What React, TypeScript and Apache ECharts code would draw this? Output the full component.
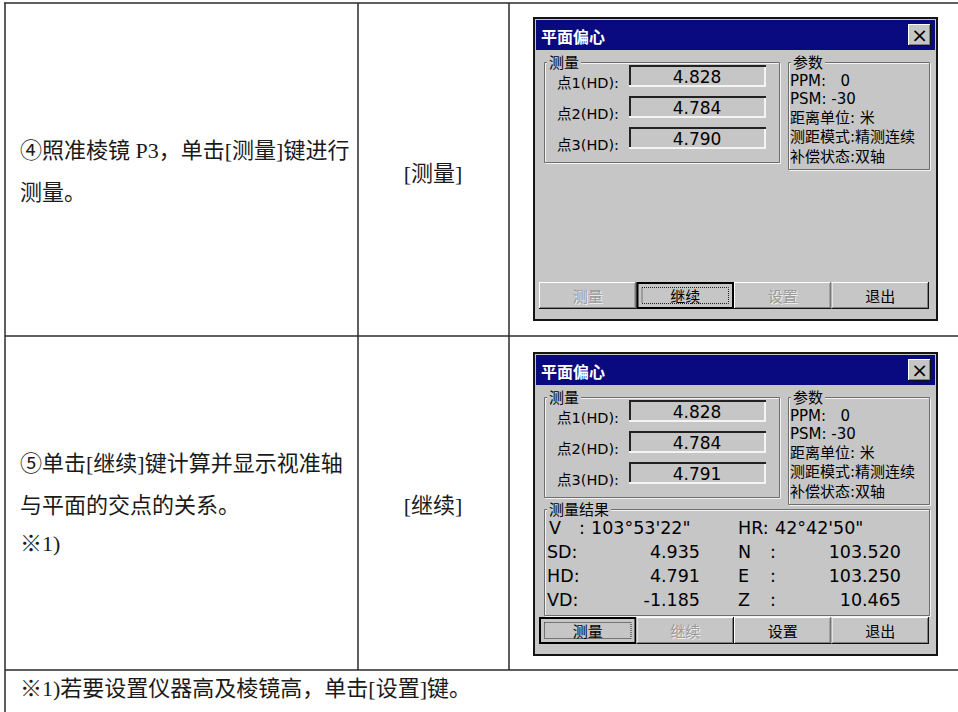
import React, { useEffect, useRef } from 'react';
import * as echarts from 'echarts';

// ---- content ----
const step4Lines = ['④照准棱镜 P3，单击[测量]键进行', '测量。'];
const step5Lines = ['⑤单击[继续]键计算并显示视准轴', '与平面的交点的关系。', '※1)'];
const keyLabels = ['[测量]', '[继续]'];
const footnote = '※1)若要设置仪器高及棱镜高，单击[设置]键。';
const dialogTitle = '平面偏心';
const measureGroupTitle = '测量';
const paramGroupTitle = '参数';
const resultGroupTitle = '测量结果';
const pointLabels = ['点1(HD):', '点2(HD):', '点3(HD):'];
const screen1Values = ['4.828', '4.784', '4.790'];
const screen2Values = ['4.828', '4.784', '4.791'];
const paramLines = ['PPM:   0', 'PSM: -30', '距离单位: 米', '测距模式:精测连续', '补偿状态:双轴'];
const buttonLabels = ['测量', '继续', '设置', '退出'];
const screen1ButtonStates = ['disabled', 'focused', 'disabled', 'normal'];
const screen2ButtonStates = ['focused', 'disabled', 'normal', 'normal'];
const angleLabels = ['V', 'HR'];
const angleValues = ["103°53'22\"", "42°42'50\""];
const distLabels = ['SD:', 'HD:', 'VD:'];
const distValues = ['4.935', '4.791', '-1.185'];
const coordLabels = ['N', 'E', 'Z'];
const coordValues = ['103.520', '103.250', '10.465'];

// ---- style ----
const BG = '#c6c6c6';
const NAVY = '#0a0a80';
const UI_FONT = "'DejaVu Sans', 'Noto Sans CJK SC', sans-serif";
const CJK_FONT = "'Noto Sans CJK SC', 'DejaVu Sans', sans-serif";
const DOC_FONT = "'Liberation Serif', 'Noto Sans CJK SC', serif";

type El = any;

const text = (x: number, y: number, t: string, o: any = {}): El => {
  const fontSize = o.fontSize ?? 15;
  return {
    type: 'text',
    x,
    y,
    silent: true,
    z: o.z ?? 10,
    style: {
      text: t,
      fill: o.fill ?? '#000',
      fontSize,
      lineHeight: o.lineHeight ?? fontSize,
      fontFamily: o.fontFamily ?? UI_FONT,
      fontWeight: o.fontWeight ?? 'normal',
      align: o.align ?? 'left',
      verticalAlign: 'middle',
      backgroundColor: o.backgroundColor,
      padding: o.padding,
    },
  };
};

const line = (x1: number, y1: number, x2: number, y2: number, stroke: string, lineWidth = 1, extra: any = {}): El => ({
  type: 'line',
  silent: true,
  z: extra.z ?? 5,
  shape: { x1, y1, x2, y2 },
  style: { stroke, lineWidth, lineDash: extra.lineDash },
});

const rect = (x: number, y: number, width: number, height: number, style: any, z = 1): El => ({
  type: 'rect',
  silent: true,
  z,
  shape: { x, y, width, height },
  style,
});

function bevel(x: number, y: number, w: number, h: number): El[] {
  return [
    rect(x, y, w, h, { fill: BG }, 2),
    line(x, y + 0.5, x + w, y + 0.5, '#ffffff', 1),
    line(x + 0.5, y, x + 0.5, y + h, '#ffffff', 1),
    line(x, y + h - 0.5, x + w, y + h - 0.5, '#111111', 1),
    line(x + w - 0.5, y, x + w - 0.5, y + h, '#111111', 1),
    line(x + 1, y + h - 1.5, x + w - 1, y + h - 1.5, '#808080', 1),
    line(x + w - 1.5, y + 1, x + w - 1.5, y + h - 1, '#808080', 1),
  ];
}

function sunken(x: number, y: number, w: number, h: number): El[] {
  return [
    rect(x, y, w, h, { fill: BG }, 2),
    line(x, y + 1, x + w, y + 1, '#222222', 2),
    line(x + 1, y, x + 1, y + h, '#222222', 2),
    line(x, y + h - 1, x + w, y + h - 1, '#f4f4f4', 2),
    line(x + w - 1, y + 2, x + w - 1, y + h, '#f4f4f4', 2),
  ];
}

function etched(x: number, y: number, w: number, h: number, label: string): El[] {
  return [
    rect(x + 1.5, y + 1.5, w, h, { fill: 'none', stroke: '#f2f2f2', lineWidth: 1 }, 3),
    rect(x + 0.5, y + 0.5, w, h, { fill: 'none', stroke: '#6e6e6e', lineWidth: 1 }, 3),
    text(x + 3, y - 1, label, { fontFamily: CJK_FONT, fontSize: 15, backgroundColor: BG, padding: [0, 2, 0, 2], z: 6 }),
  ];
}

function button(x: number, y: number, w: number, h: number, label: string, state: string): El[] {
  const els: El[] = [];
  if (state === 'focused') {
    els.push(rect(x, y, w, h, { fill: BG }, 2));
    els.push(rect(x + 1, y + 1, w - 2, h - 2, { fill: 'none', stroke: '#000', lineWidth: 2 }, 4));
    els.push(rect(x + 5.5, y + 5.5, w - 11, h - 11, { fill: 'none', stroke: '#222', lineWidth: 1, lineDash: [1, 1] }, 4));
  } else {
    els.push(...bevel(x, y, w, h));
  }
  const cx = x + w / 2;
  const cy = y + h / 2;
  if (state === 'disabled') {
    els.push(text(cx + 1, cy + 1, label, { fontFamily: CJK_FONT, fontSize: 15, align: 'center', fill: '#f0f0f0' }));
    els.push(text(cx, cy, label, { fontFamily: CJK_FONT, fontSize: 15, align: 'center', fill: '#9a9a9a', z: 11 }));
  } else {
    els.push(text(cx, cy, label, { fontFamily: CJK_FONT, fontSize: 15, align: 'center', fill: '#000' }));
  }
  return els;
}

function dialog(x0: number, y0: number, values: string[], states: string[], withResults: boolean): El[] {
  const W = 403;
  const H = 302;
  const els: El[] = [];
  els.push(rect(x0, y0, W, H, { fill: BG, stroke: '#141414', lineWidth: 2 }, 1));
  els.push(rect(x0 + 2, y0 + 2, W - 4, 30, { fill: NAVY }, 2));
  els.push(text(x0 + 7, y0 + 18, dialogTitle, { fill: '#fff', fontSize: 16, fontWeight: 'bold', fontFamily: CJK_FONT }));
  // close button
  els.push(...bevel(x0 + 374, y0 + 6, 23, 22));
  els.push(text(x0 + 385.5, y0 + 17, '×', { fontSize: 20, align: 'center' }));

  // measure group
  els.push(...etched(x0 + 10, y0 + 44, 235, 100, measureGroupTitle));
  const boxY = [47, 78, 109];
  boxY.forEach((by, i) => {
    els.push(...sunken(x0 + 95, y0 + by, 137, 22));
    els.push(text(x0 + 163, y0 + by + 12, values[i], { fontSize: 17, align: 'center' }));
    els.push(text(x0 + 85, y0 + by + 18, pointLabels[i], { fontSize: 14.5, align: 'right' }));
  });

  // param group
  els.push(...etched(x0 + 254, y0 + 44, 141, 107, paramGroupTitle));
  const py = [63, 81, 100, 119, 139];
  paramLines.forEach((p, i) => {
    els.push(text(x0 + 256, y0 + py[i], p, { fontSize: 15 }));
  });

  if (withResults) {
    els.push(...etched(x0 + 10, y0 + 156, 385, 106, resultGroupTitle));
    const ry = [175, 199, 223, 247];
    const fs = 17.5;
    els.push(text(x0 + 15, y0 + ry[0], angleLabels[0], { fontSize: fs }));
    els.push(text(x0 + 45, y0 + ry[0], ':', { fontSize: fs }));
    els.push(text(x0 + 57, y0 + ry[0], angleValues[0], { fontSize: fs }));
    els.push(text(x0 + 204, y0 + ry[0], angleLabels[1] + ':', { fontSize: fs }));
    els.push(text(x0 + 241, y0 + ry[0], angleValues[1], { fontSize: fs }));
    distLabels.forEach((l, i) => {
      const y = y0 + ry[i + 1];
      els.push(text(x0 + 13, y, l, { fontSize: fs }));
      els.push(text(x0 + 166, y, distValues[i], { fontSize: fs, align: 'right' }));
      els.push(text(x0 + 204, y, coordLabels[i], { fontSize: fs }));
      els.push(text(x0 + 236, y, ':', { fontSize: fs }));
      els.push(text(x0 + 367, y, coordValues[i], { fontSize: fs, align: 'right' }));
    });
  }

  // buttons
  const bw = 97.5;
  buttonLabels.forEach((b, i) => {
    els.push(...button(x0 + 5 + i * bw, y0 + 264, bw, 27, b, states[i]));
  });
  return els;
}

function buildElements(): El[] {
  const els: El[] = [];
  const LC = '#2a2a2a';
  // table lines
  els.push(line(4, 3, 958, 3, LC, 1.5));
  els.push(line(5, 3, 5, 712, LC, 1.5));
  els.push(line(358, 3, 358, 670, LC, 1.5));
  els.push(line(509, 3, 509, 670, LC, 1.5));
  els.push(line(5, 336, 958, 336, LC, 1.5));
  els.push(line(5, 670, 958, 670, LC, 1.5));

  const docStyle = { fontFamily: DOC_FONT, fontSize: 22, fill: '#1a1a1a' };
  // row 1 text
  const s4y = [150, 192];
  step4Lines.forEach((t, i) => els.push(text(20, s4y[i], t, docStyle)));
  els.push(text(433, 173, keyLabels[0], { ...docStyle, align: 'center' }));

  // row 2 text
  const s5y = [463, 505, 543];
  step5Lines.forEach((t, i) => els.push(text(20, s5y[i], t, docStyle)));
  els.push(text(433, 505, keyLabels[1], { ...docStyle, align: 'center' }));

  // footnote
  els.push(text(20, 688, footnote, docStyle));

  // dialogs
  els.push(...dialog(534, 18, screen1Values, screen1ButtonStates, false));
  els.push(...dialog(534, 353, screen2Values, screen2ButtonStates, true));
  return els;
}

export default function App() {
  const ref = useRef<HTMLDivElement>(null);
  useEffect(() => {
    if (!ref.current) return;
    const chart = echarts.init(ref.current, undefined, { renderer: 'svg', width: 958, height: 712 });
    chart.setOption({
      animation: false,
      backgroundColor: '#ffffff',
      graphic: { elements: buildElements() },
    });
    return () => chart.dispose();
  }, []);
  return (
    <div
      ref={ref}
      style={{ position: 'fixed', left: 0, top: 0, width: 958, height: 712, background: '#fff' }}
    />
  );
}
